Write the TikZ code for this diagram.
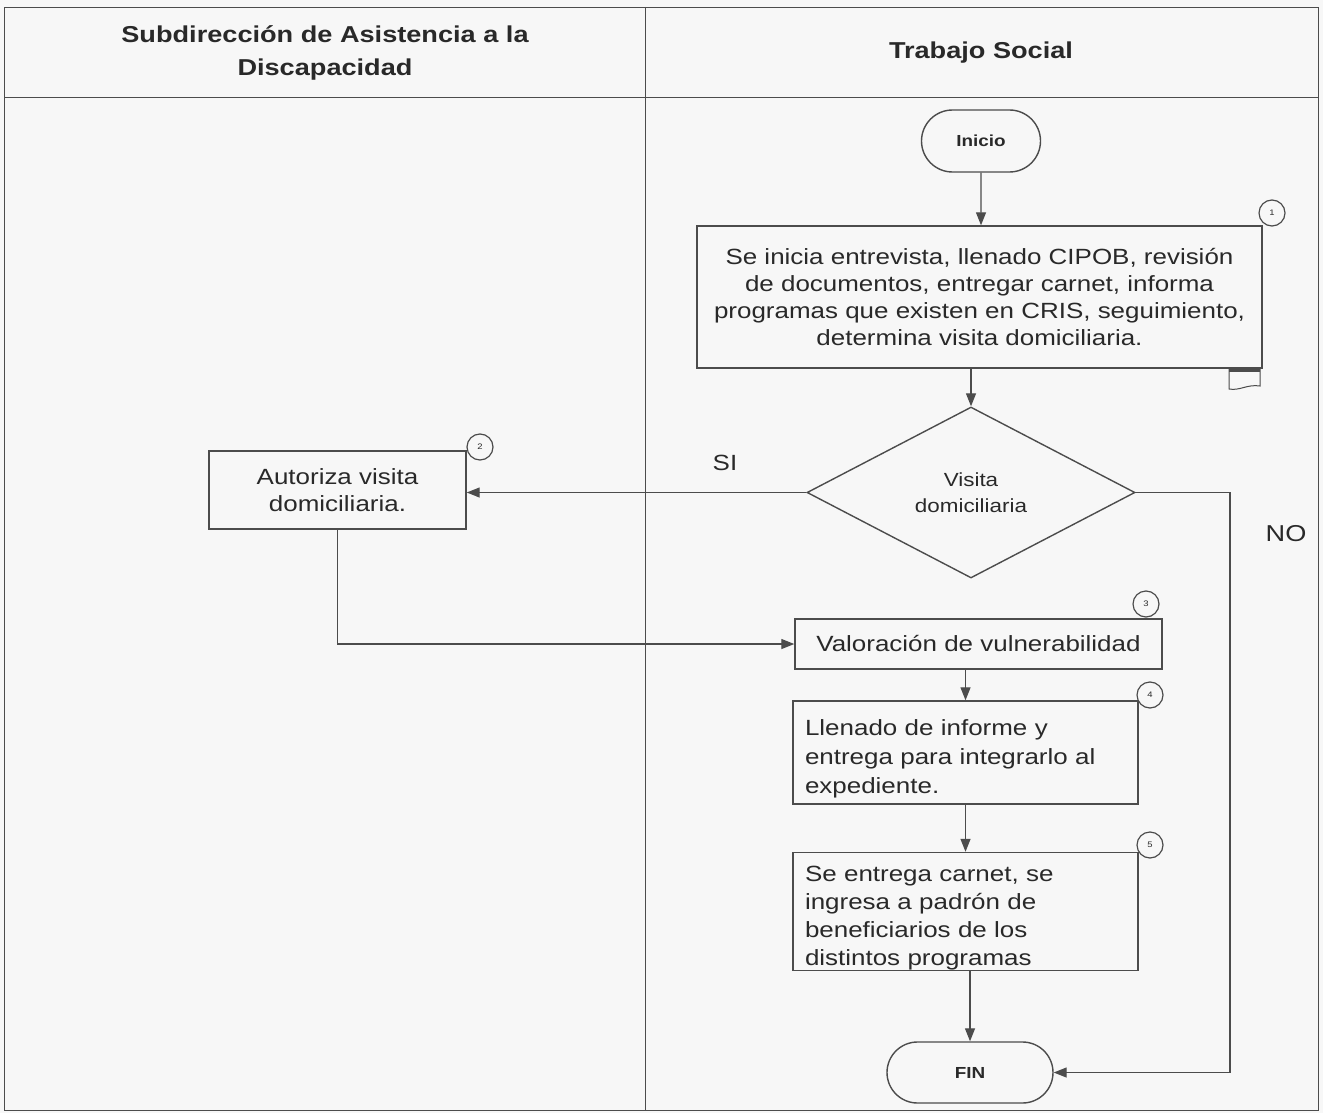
\documentclass[tikz,border=0pt]{standalone}
\usepackage{fontspec}
\setmainfont{Liberation Sans}[FakeStretch=1.18]
\usetikzlibrary{arrows.meta,shapes.geometric,shapes.misc}

\definecolor{linegray}{gray}{0.3}
\definecolor{inkgray}{gray}{0.16}
\definecolor{paper}{gray}{0.97}

\begin{document}
\begin{tikzpicture}[x=1pt,y=-1pt]
\tikzset{
  lane/.style={draw=linegray,line width=0.8pt},
  headtext/.style={align=center,text=inkgray,font=\fontsize{23}{33}\selectfont\bfseries},
  procbox/.style={rectangle,draw=linegray,line width=1.4pt,inner sep=0pt,text=inkgray,font=\fontsize{22}{26.7}\selectfont},
  terminal/.style={rounded rectangle,draw=linegray,line width=1.4pt,inner sep=0pt,text=inkgray,font=\fontsize{16}{19}\selectfont\bfseries},
  decision/.style={diamond,draw=linegray,line width=1.4pt,inner sep=0pt,align=center,text=inkgray,font=\fontsize{19}{26}\selectfont},
  stepnum/.style={circle,draw=linegray,line width=1.2pt,fill=paper,minimum size=26pt,inner sep=0pt,text=inkgray,font=\fontsize{8}{8}\selectfont},
  flow/.style={-{Triangle[length=13pt,width=10pt]},draw=linegray,line width=1.3pt},
  branch/.style={text=inkgray,font=\fontsize{22}{22}\selectfont}
}
\useasboundingbox (0,0) rectangle (1323,1113);
\fill[paper] (0,0) rectangle (1323,1113);
% swimlanes
\draw[lane] (4,7) rectangle (1318,1110);
\draw[lane] (4,97) -- (1318,97);
\draw[lane] (645,7) -- (645,1110);
\node[headtext] (n_head_sub) at (325,53) {Subdirección de Asistencia a la\\Discapacidad};
\node[headtext] (n_head_ts) at (981,53) {Trabajo Social};
% steps
\node[terminal,minimum width=119pt,minimum height=62pt] (n_inicio) at (981,141) {Inicio};
\node[procbox,minimum width=565pt,minimum height=142pt,align=center] (n_b1) at (979.5,297)
  {Se inicia entrevista, llenado CIPOB, revisión\\de documentos, entregar carnet, informa\\programas que existen en CRIS, seguimiento,\\determina visita domiciliaria.};
\node[decision,minimum width=328pt,minimum height=171pt] (n_dec) at (971,492.5) {Visita\\domiciliaria};
\node[procbox,minimum width=257pt,minimum height=78pt,align=center] (n_b2) at (337.5,490) {Autoriza visita\\domiciliaria.};
\node[procbox,minimum width=367pt,minimum height=50pt] (n_b3) at (978.5,644) {Valoración de vulnerabilidad};
\node[procbox,minimum height=103pt,text width=321pt,inner xsep=12pt,align=left,font=\fontsize{22}{29}\selectfont] (n_b4) at (965.5,752.5)
  {\rule{0pt}{28pt}Llenado de informe y\\entrega para integrarlo al\\expediente.};
\node[procbox,minimum height=118pt,text width=321pt,inner xsep=12pt,align=left,font=\fontsize{22}{28}\selectfont] (n_b5) at (965.5,911.5)
  {\rule{0pt}{28pt}Se entrega carnet, se\\ingresa a padrón de\\beneficiarios de los\\distintos programas};
\node[terminal,minimum width=166pt,minimum height=61pt] (n_fin) at (970,1072.5) {FIN};
\node[branch] (n_si) at (725,463) {SI};
\node[branch,font=\fontsize{23}{23}\selectfont] (n_no) at (1286,534) {NO};
\coordinate (n_no_turn) at (1230,1072.5);
% connectors
\draw[flow] (n_inicio) -- (n_inicio |- n_b1.north);
\draw[flow] (n_dec.north |- n_b1.south) -- (n_dec.north);
\draw[flow] (n_dec.west) -- (n_dec.west -| n_b2.east);
\draw[flow] (n_b2.south) |- (n_b3.west);
\draw[flow] (n_dec.east) -| (n_no_turn) -- (n_fin.east);
\draw[flow] (n_b4.north |- n_b3.south) -- (n_b4.north);
\draw[flow] (n_b4) -- (n_b5);
\draw[flow] (n_fin.north |- n_b5.south) -- (n_fin.north);
% document mark
\draw[linegray,line width=1pt] (1229,369) -- (1229,389) .. controls (1240,391) and (1247,384) .. (1260,386) -- (1260,369);
\draw[linegray,line width=3pt] (1229,370.5) -- (1260,370.5);
% step numbers
\node[stepnum] (n_c1) at (1272,213) {1};
\node[stepnum] (n_c2) at (480,447) {2};
\node[stepnum] (n_c3) at (1146,604) {3};
\node[stepnum] (n_c4) at (1150,695) {4};
\node[stepnum] (n_c5) at (1150,845) {5};
\end{tikzpicture}
\end{document}
